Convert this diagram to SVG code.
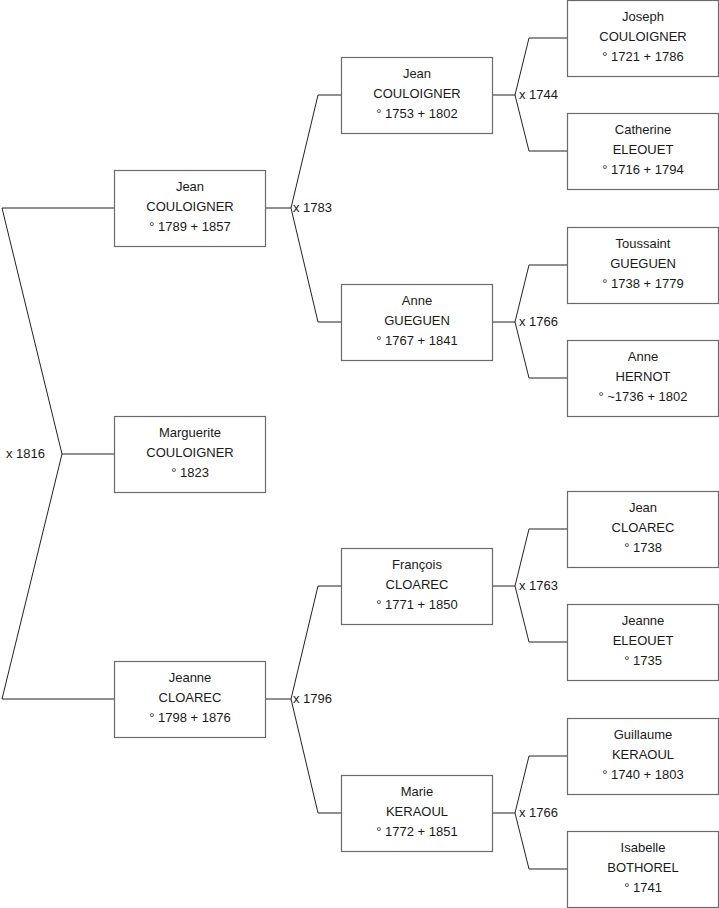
<svg xmlns="http://www.w3.org/2000/svg" width="719" height="908" viewBox="0 0 719 908">
<style>
.box{fill:#fff;stroke:#6b6b6b;stroke-width:1.2}
.t{font-family:"Liberation Sans",Arial,sans-serif;font-size:13px;fill:#1a1a1a;text-anchor:middle}
.l{font-family:"Liberation Sans",Arial,sans-serif;font-size:13px;fill:#1a1a1a}
.c{fill:none;stroke:#222;stroke-width:1}
</style>
<rect width="719" height="908" fill="#fff"/>
<g id="connectors">
<polyline class="c" points="114,208 2,208 62,454 2,699 114,699"/>
<line class="c" x1="62" y1="454" x2="114" y2="454"/>
<polyline class="c" points="341,95 318,95 291,208 318,322 341,322"/>
<line class="c" x1="265" y1="208" x2="291" y2="208"/>
<polyline class="c" points="341,586 318,586 291,699 318,813 341,813"/>
<line class="c" x1="265" y1="699" x2="291" y2="699"/>
<polyline class="c" points="567,38 529,38 515,95 529,151 567,151"/>
<line class="c" x1="492" y1="95" x2="515" y2="95"/>
<polyline class="c" points="567,265 529,265 515,322 529,378 567,378"/>
<line class="c" x1="492" y1="322" x2="515" y2="322"/>
<polyline class="c" points="567,529 529,529 515,586 529,642 567,642"/>
<line class="c" x1="492" y1="586" x2="515" y2="586"/>
<polyline class="c" points="567,756 529,756 515,813 529,869 567,869"/>
<line class="c" x1="492" y1="813" x2="515" y2="813"/>
<text class="l" x="6" y="458">x 1816</text>
<text class="l" x="293" y="212">x 1783</text>
<text class="l" x="293" y="703">x 1796</text>
<text class="l" x="519" y="99">x 1744</text>
<text class="l" x="519" y="326">x 1766</text>
<text class="l" x="519" y="590">x 1763</text>
<text class="l" x="519" y="817">x 1766</text>
</g>
<g id="n1"><rect class="box" x="114.5" y="170.5" width="151" height="76"/><text class="t" x="190" y="191">Jean</text><text class="t" x="190" y="211">COULOIGNER</text><text class="t" x="190" y="231">° 1789 + 1857</text></g>
<g id="n2"><rect class="box" x="114.5" y="416.5" width="151" height="76"/><text class="t" x="190" y="437">Marguerite</text><text class="t" x="190" y="457">COULOIGNER</text><text class="t" x="190" y="477">° 1823</text></g>
<g id="n3"><rect class="box" x="114.5" y="661.5" width="151" height="76"/><text class="t" x="190" y="682">Jeanne</text><text class="t" x="190" y="702">CLOAREC</text><text class="t" x="190" y="722">° 1798 + 1876</text></g>
<g id="n4"><rect class="box" x="341.5" y="57.5" width="151" height="76"/><text class="t" x="417" y="78">Jean</text><text class="t" x="417" y="98">COULOIGNER</text><text class="t" x="417" y="118">° 1753 + 1802</text></g>
<g id="n5"><rect class="box" x="341.5" y="284.5" width="151" height="76"/><text class="t" x="417" y="305">Anne</text><text class="t" x="417" y="325">GUEGUEN</text><text class="t" x="417" y="345">° 1767 + 1841</text></g>
<g id="n6"><rect class="box" x="341.5" y="548.5" width="151" height="76"/><text class="t" x="417" y="569">François</text><text class="t" x="417" y="589">CLOAREC</text><text class="t" x="417" y="609">° 1771 + 1850</text></g>
<g id="n7"><rect class="box" x="341.5" y="775.5" width="151" height="76"/><text class="t" x="417" y="796">Marie</text><text class="t" x="417" y="816">KERAOUL</text><text class="t" x="417" y="836">° 1772 + 1851</text></g>
<g id="n8"><rect class="box" x="567.5" y="0.5" width="151" height="76"/><text class="t" x="643" y="21">Joseph</text><text class="t" x="643" y="41">COULOIGNER</text><text class="t" x="643" y="61">° 1721 + 1786</text></g>
<g id="n9"><rect class="box" x="567.5" y="113.5" width="151" height="76"/><text class="t" x="643" y="134">Catherine</text><text class="t" x="643" y="154">ELEOUET</text><text class="t" x="643" y="174">° 1716 + 1794</text></g>
<g id="n10"><rect class="box" x="567.5" y="227.5" width="151" height="76"/><text class="t" x="643" y="248">Toussaint</text><text class="t" x="643" y="268">GUEGUEN</text><text class="t" x="643" y="288">° 1738 + 1779</text></g>
<g id="n11"><rect class="box" x="567.5" y="340.5" width="151" height="76"/><text class="t" x="643" y="361">Anne</text><text class="t" x="643" y="381">HERNOT</text><text class="t" x="643" y="401">° ~1736 + 1802</text></g>
<g id="n12"><rect class="box" x="567.5" y="491.5" width="151" height="76"/><text class="t" x="643" y="512">Jean</text><text class="t" x="643" y="532">CLOAREC</text><text class="t" x="643" y="552">° 1738</text></g>
<g id="n13"><rect class="box" x="567.5" y="604.5" width="151" height="76"/><text class="t" x="643" y="625">Jeanne</text><text class="t" x="643" y="645">ELEOUET</text><text class="t" x="643" y="665">° 1735</text></g>
<g id="n14"><rect class="box" x="567.5" y="718.5" width="151" height="76"/><text class="t" x="643" y="739">Guillaume</text><text class="t" x="643" y="759">KERAOUL</text><text class="t" x="643" y="779">° 1740 + 1803</text></g>
<g id="n15"><rect class="box" x="567.5" y="831.5" width="151" height="76"/><text class="t" x="643" y="852">Isabelle</text><text class="t" x="643" y="872">BOTHOREL</text><text class="t" x="643" y="892">° 1741</text></g>
</svg>
